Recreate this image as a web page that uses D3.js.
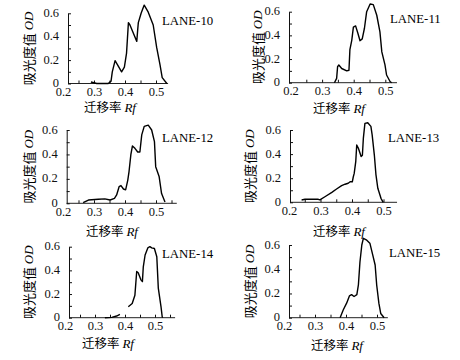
<!DOCTYPE html>
<html>
<head>
<meta charset="utf-8">
<script src="https://cdn.jsdelivr.net/npm/d3@7"></script>
<style>
    body { margin: 0; background: #fff; }
    svg { display: block; }
</style>
</head>
<body>
<div id="chart"></div>
<script>
// ---------------- data (Rf, OD) ----------------
const laneNames = ["LANE-10", "LANE-11", "LANE-12", "LANE-13", "LANE-14", "LANE-15"];
const xTickLabels = [0.2, 0.3, 0.4, 0.5];
const xMinorTicks = [0.25, 0.3, 0.35, 0.4, 0.45, 0.5, 0.55];
const yTicks = [0, 0.1, 0.2, 0.3, 0.4, 0.5, 0.6];
const yTickLabels = ["0", "", "0.2", "", "0.4", "", "0.6"];

const lane10 = [[0.290,0.013],[0.309,0],[0.346,0],[0.355,0.02],[0.359,0.10],[0.368,0.195],[0.376,0.16],[0.389,0.10],[0.398,0.14],[0.405,0.26],[0.411,0.52],[0.416,0.50],[0.427,0.43],[0.438,0.36],[0.441,0.46],[0.443,0.52],[0.452,0.60],[0.462,0.67],[0.475,0.61],[0.491,0.50],[0.502,0.31],[0.513,0.16],[0.520,0.05],[0.535,0]];
const lane11 = [[0.339,0],[0.346,0.037],[0.349,0.135],[0.353,0.15],[0.362,0.12],[0.378,0.10],[0.385,0.105],[0.388,0.28],[0.394,0.36],[0.399,0.47],[0.406,0.48],[0.413,0.42],[0.420,0.355],[0.427,0.37],[0.434,0.46],[0.441,0.60],[0.452,0.665],[0.462,0.66],[0.473,0.57],[0.483,0.43],[0.489,0.26],[0.499,0.15],[0.504,0.065],[0.515,0.01],[0.520,0]];
const lane12 = [[0.265,0.005],[0.282,0.027],[0.314,0.033],[0.335,0.036],[0.352,0.027],[0.366,0.04],[0.373,0.068],[0.381,0.136],[0.387,0.145],[0.395,0.117],[0.402,0.11],[0.409,0.19],[0.413,0.26],[0.419,0.40],[0.424,0.47],[0.432,0.45],[0.441,0.42],[0.448,0.42],[0.454,0.56],[0.462,0.63],[0.475,0.64],[0.486,0.60],[0.495,0.505],[0.499,0.30],[0.510,0.22],[0.518,0.08],[0.529,0.01]];
const lane13 = [[0.240,0.019],[0.251,0.025],[0.293,0.025],[0.298,0.02],[0.314,0.046],[0.336,0.083],[0.351,0.11],[0.367,0.138],[0.378,0.15],[0.388,0.158],[0.394,0.17],[0.401,0.17],[0.404,0.21],[0.407,0.24],[0.412,0.34],[0.415,0.475],[0.420,0.45],[0.429,0.38],[0.433,0.39],[0.436,0.53],[0.441,0.655],[0.450,0.66],[0.460,0.63],[0.464,0.56],[0.471,0.39],[0.476,0.23],[0.482,0.116],[0.492,0.033],[0.499,0]];
// lane 14 has a break in the trace, marked by null
const lane14 = [[0.333,0],[0.356,0.003],[0.372,0.014],[0.383,0.028],[0.392,null],[0.411,0.093],[0.424,0.12],[0.433,0.19],[0.439,0.39],[0.444,0.38],[0.453,0.32],[0.458,0.305],[0.461,0.43],[0.467,0.53],[0.476,0.59],[0.483,0.60],[0.489,0.59],[0.498,0.585],[0.506,0.515],[0.511,0.25],[0.520,0.093],[0.524,0.008],[0.526,0]];
const lane15 = [[0.381,0],[0.391,0.064],[0.402,0.12],[0.411,0.18],[0.418,0.19],[0.426,0.175],[0.435,0.19],[0.440,0.27],[0.445,0.46],[0.451,0.60],[0.456,0.655],[0.467,0.64],[0.477,0.615],[0.486,0.52],[0.494,0.435],[0.499,0.27],[0.506,0.12],[0.512,0.035],[0.523,0]];

const lanes = [lane10, lane11, lane12, lane13, lane14, lane15];
const xMax = [0.539, 0.537, 0.567, 0.543, 0.567, 0.535];

/* ----------------------- panel layout (pixels) ----------------------- */
// axisX: y axis position, x02: where Rf 0.2 sits, unit: px per 1.0 Rf
const layout = [
    { axisX: 68,   x02: 63,    unit: 310, base: 83.5,  top: 13.3,  yLabX: 28,   xLabX: 110, xLabY: 111.5, laneX: 162 },
    { axisX: 289,  x02: 290.5, unit: 316, base: 82.7,  top: 11.7,  yLabX: 257,  xLabX: 339, xLabY: 112.5, laneX: 390 },
    { axisX: 66.7, x02: 63,    unit: 310, base: 203.3, top: 130,   yLabX: 28,   xLabX: 112, xLabY: 236,   laneX: 162 },
    { axisX: 290,  x02: 289,   unit: 315, base: 202.3, top: 130,   yLabX: 249,  xLabX: 339, xLabY: 236,   laneX: 388 },
    { axisX: 69,   x02: 65,    unit: 300, base: 317.7, top: 246.7, yLabX: 27.5, xLabX: 108, xLabY: 347.5, laneX: 162 },
    { axisX: 289,  x02: 284,   unit: 310, base: 317.7, top: 245,   yLabX: 249,  xLabX: 337, xLabY: 349.5, laneX: 389 },
];

const serif = "'Liberation Serif', 'Times New Roman', serif";
const cjk = "'Noto Sans CJK SC', sans-serif";

const svg = d3.select("#chart")
    .append("svg")
    .attr("width", 460)
    .attr("height", 360);

lanes.forEach((data, i) => {
    const L = layout[i];
    const x = d3.scaleLinear()
        .domain([0.2, xMax[i]])
        .range([L.x02, L.x02 + (xMax[i] - 0.2) * L.unit]);
    const y = d3.scaleLinear().domain([0, 0.6]).range([L.base, L.top]);

    const g = svg.append("g").style("color", "#111");

    // x axis line starts at the y axis
    g.append("line")
        .attr("x1", L.axisX)
        .attr("x2", x(xMax[i]))
        .attr("y1", L.base)
        .attr("y2", L.base)
        .attr("stroke", "#222");

    // small inward ticks on x
    g.append("g")
        .attr("transform", `translate(0,${L.base})`)
        .call(d3.axisBottom(x)
            .tickValues(xMinorTicks.filter((v) => v <= xMax[i]))
            .tickSize(-3)
            .tickFormat(""))
        .call((a) => a.select(".domain").remove());

    // x tick labels
    g.append("g")
        .attr("transform", `translate(0,${L.base})`)
        .call(d3.axisBottom(x)
            .tickValues(xTickLabels)
            .tickSize(0)
            .tickPadding(3.5)
            .tickFormat(d3.format(".1f")))
        .call((a) => a.select(".domain").remove())
        .attr("font-family", serif)
        .attr("font-size", 12.5);

    // y axis
    g.append("g")
        .attr("transform", `translate(${L.axisX},0)`)
        .call(d3.axisLeft(y)
            .tickValues(yTicks)
            .tickSizeInner(-3)
            .tickSizeOuter(0)
            .tickPadding(9)
            .tickFormat((d, k) => yTickLabels[k]))
        .attr("font-family", serif)
        .attr("font-size", 12.5)
        .call((a) => a.selectAll(".tick text").attr("dy", "0.25em"));

    // densitogram trace
    const line = d3.line()
        .defined((d) => d[1] != null)
        .x((d) => x(d[0]))
        .y((d) => y(d[1]));

    g.append("path")
        .datum(data)
        .attr("fill", "none")
        .attr("stroke", "#000")
        .attr("stroke-width", 1.4)
        .attr("stroke-linejoin", "round")
        .attr("d", line);

    // lane name
    g.append("text")
        .attr("x", L.laneX)
        .attr("y", L.top + 11.5)
        .attr("font-family", serif)
        .attr("font-size", 12.8)
        .attr("fill", "#000")
        .text(laneNames[i]);

    // y label
    const yl = g.append("text")
        .attr("transform", `translate(${L.yLabX},${(L.base + L.top) / 2}) rotate(-90)`)
        .attr("text-anchor", "middle")
        .attr("dominant-baseline", "central")
        .attr("fill", "#000");
    yl.append("tspan").attr("font-family", cjk).attr("font-size", 13).text("吸光度值 ");
    yl.append("tspan").attr("font-family", serif).attr("font-style", "italic").attr("font-size", 13).text("OD");

    // x label
    const xl = g.append("text")
        .attr("x", L.xLabX)
        .attr("y", L.xLabY)
        .attr("text-anchor", "middle")
        .attr("fill", "#000");
    xl.append("tspan").attr("font-family", cjk).attr("font-size", 12.5).text("迁移率 ");
    xl.append("tspan").attr("font-family", serif).attr("font-style", "italic").attr("font-size", 13).text("Rf");
});
</script>
</body>
</html>
